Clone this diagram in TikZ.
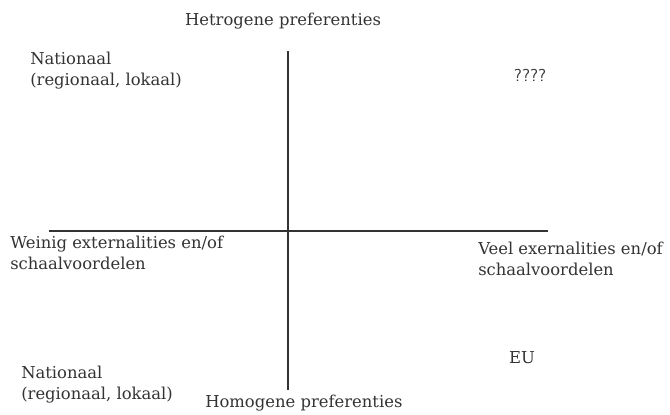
\documentclass[tikz,border=0pt]{standalone}
\usepackage{fontspec}
\setmainfont{DejaVu Serif}
\definecolor{ink}{RGB}{51,51,51}
\tikzset{
  label/.style={text=ink,font=\fontsize{12.3pt}{15.8pt}\selectfont,inner sep=0pt},
  axis/.style={draw=ink,line width=1.4pt}
}
\begin{document}
\begin{tikzpicture}[x=0.75pt,y=0.75pt,yscale=-1,xscale=1]
\path (0,0) rectangle (670,414); %set diagram size

% Axes ends
\coordinate (top) at (288,51);
\coordinate (bottom) at (288,390);
\coordinate (left) at (49,231);
\coordinate (right) at (548,231);

%Straight Lines
\draw [axis] (top) -- (bottom) ;
%Straight Lines
\draw [axis] (left) -- (right) ;

% Text Node
\node [label] (hetero) at (283,21) {Hetrogene preferenties};
% Text Node
\node [label,anchor=north west,align=left] (natTop) at (30,52) {Nationaal\\(regionaal, lokaal)};
% Text Node
\node [label,font=\fontsize{13pt}{15pt}\selectfont\sffamily] (quest) at (530,75) {????};
% Text Node
\node [label,anchor=north west,align=left] (weinig) at (10,236) {Weinig externalities en/of\\schaalvoordelen};
% Text Node
\node [label,anchor=north west,align=left] (veel) at (478,242) {Veel exernalities en/of\\schaalvoordelen};
% Text Node
\node [label] (eu) at (522,358) {EU};
% Text Node
\node [label,anchor=north west,align=left] (natBottom) at (21,366) {Nationaal\\(regionaal, lokaal)};
% Text Node
\node [label,anchor=west] (homo) at (205,403) {Homogene preferenties};

\end{tikzpicture}
\end{document}
